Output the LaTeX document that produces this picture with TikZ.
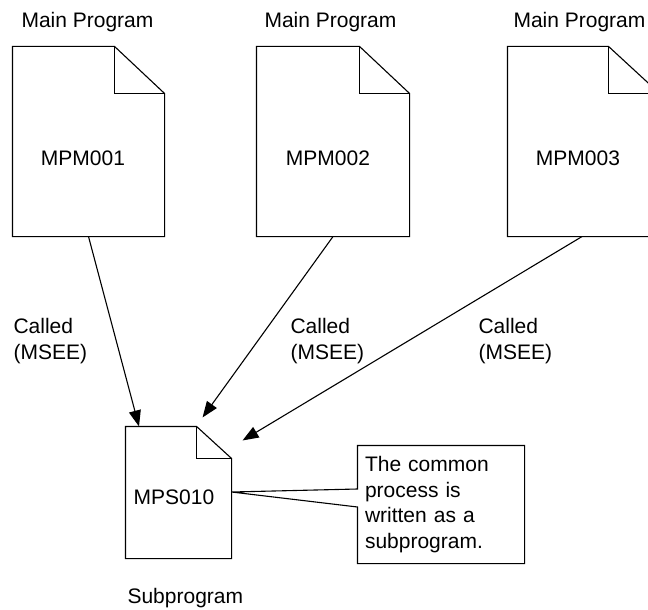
\documentclass[tikz,border=0pt]{standalone}
\usepackage{fontspec}
\setmainfont{Liberation Sans}
\usetikzlibrary{arrows.meta}
\newcommand\docshape[3]{%
  \draw[fill=white] (#1.north west) -- ([xshift=-#2]#1.north east) -- ([yshift=-#3]#1.north east) -- (#1.south east) -- (#1.south west) -- cycle;
  \draw ([xshift=-#2]#1.north east) |- ([yshift=-#3]#1.north east);
}
\begin{document}
\begin{tikzpicture}[x=1pt,y=-1pt,line width=1.1pt,
  txt/.style={inner sep=0pt, anchor=base west, font=\fontsize{21}{25.5}\selectfont, align=left},
  docnode/.style={inner sep=0pt, draw=none},
  callarrow/.style={-{Triangle[length=16pt,width=12pt]}, line width=1.1pt}]
\useasboundingbox (0,0) rectangle (648,610);
\clip (0,0) rectangle (648,610);
\fill[white] (0,0) rectangle (648,610);

% documents
\node[docnode, minimum width=151pt, minimum height=189pt] (d1) at (88.5,141.5) {};
\node[docnode, minimum width=152pt, minimum height=189pt] (d2) at (333,141.5) {};
\node[docnode, minimum width=151pt, minimum height=189pt] (d3) at (583.5,141.5) {};
\node[docnode, minimum width=105pt, minimum height=131pt] (s) at (178.5,492.5) {};
\docshape{d1}{50pt}{47pt}
\docshape{d2}{50pt}{47pt}
\docshape{d3}{51pt}{47pt}
\docshape{s}{35pt}{32pt}

\node[txt, anchor=base] (t1) at (83,165) {MPM001};
\node[txt, anchor=base] (t2) at (328,165) {MPM002};
\node[txt, anchor=base] (t3) at (578,165) {MPM003};
\node[txt, anchor=base] (ts) at (174,504) {MPS010};

\node[txt] (m1) at (21,28) {Main Program};
\node[txt] (m2) at (264,28) {Main Program};
\node[txt] (m3) at (513,28) {Main Program};
\node[txt] (sp) at (127,603) {Subprogram};

\node[txt] (c1) at (13,359) {Called\\(MSEE)};
\node[txt] (c2) at (290,359) {Called\\(MSEE)};
\node[txt] (c3) at (478,359) {Called\\(MSEE)};

% connectors
\coordinate (e1) at ([xshift=-39.5pt]s.north);
\coordinate (e2) at ([xshift=-29pt,yshift=9pt]s.north east);
\coordinate (e3) at ([xshift=11pt,yshift=-14pt]s.north east);
\draw[callarrow] (d1.south) -- (e1);
\draw[callarrow] (d2.south) -- (e2);
\draw[callarrow] ([xshift=-1.5pt]d3.south) -- (e3);

% callout
\node[docnode, minimum width=166pt, minimum height=117pt, text width=152pt, align=left,
      font=\fontsize{21}{25.5}\selectfont] (note) at (441,504.5) {The common\\process is\\written as a\\subprogram.};
\coordinate (tip) at ([yshift=0.5pt]s.east);
\draw (note.north west) -- (note.north east) -- (note.south east) -- (note.south west)
  -- ([yshift=-2.5pt]note.west) -- (tip) -- ([yshift=15.5pt]note.west) -- cycle;
\end{tikzpicture}
\end{document}
